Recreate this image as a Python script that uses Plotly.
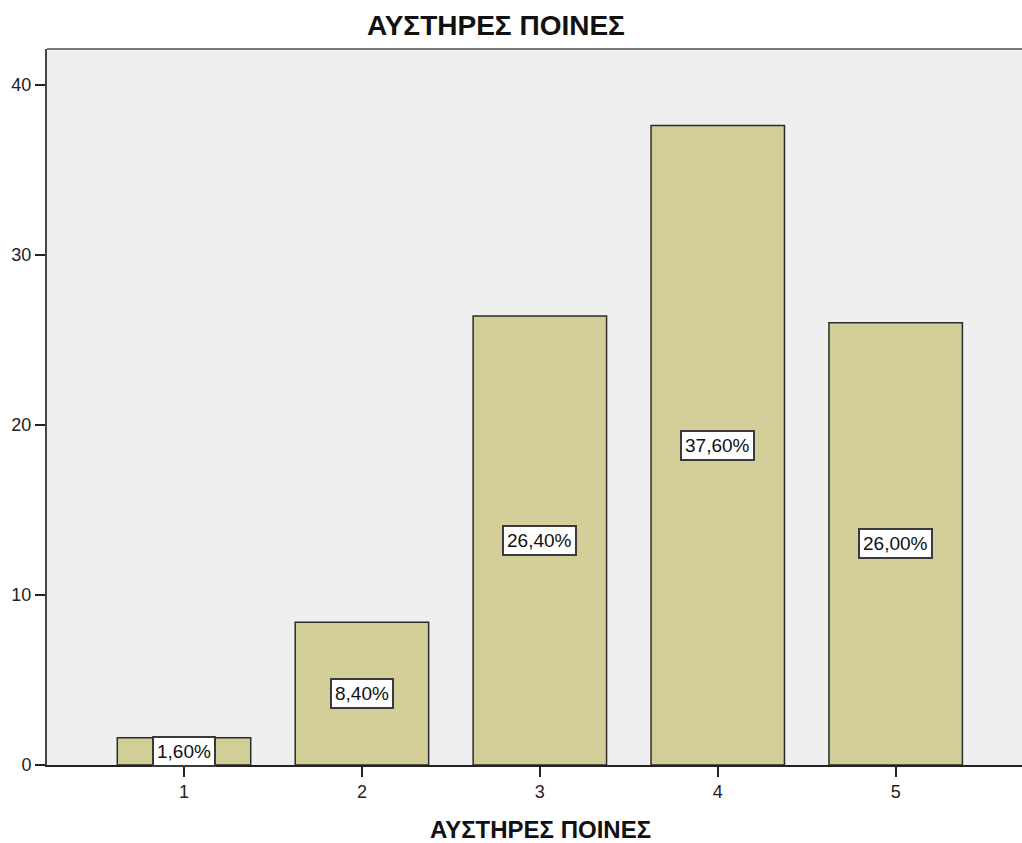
import plotly.graph_objects as go

# Response categories and their percentage shares
categories = [1, 2, 3, 4, 5]
percentages = [1.6, 8.4, 26.4, 37.6, 26.0]
tick_values = [0, 10, 20, 30, 40]
title_text = "ΑΥΣΤΗΡΕΣ ΠΟΙΝΕΣ"

FONT = "Liberation Sans, Arial"
PLOT_L, PLOT_R = 47, 1022
PLOT_B = 765


def pct_label(v):
    return f"{v:.2f}%".replace(".", ",")


def paper_x(px):
    return (px - PLOT_L) / (PLOT_R - PLOT_L)


fig = go.Figure()
fig.add_trace(go.Bar(
    x=categories,
    y=percentages,
    width=0.75,
    marker=dict(color="#D3CE98", line=dict(color="#2b2b2b", width=1.5)),
    hoverinfo="skip",
))

# Boxed value labels centred within each bar
for c, v in zip(categories, percentages):
    fig.add_annotation(
        x=c, y=v / 2, xref="x", yref="y",
        text=pct_label(v), showarrow=False,
        font=dict(family=FONT, size=19, color="#111111"),
        bgcolor="white", bordercolor="#3a3a3a", borderwidth=2, borderpad=3,
    )

# Chart title
fig.add_annotation(
    x=paper_x(496), y=1, xref="paper", yref="paper", yanchor="bottom", yshift=6,
    text=f"<b>{title_text}</b>", showarrow=False,
    font=dict(family=FONT, size=28, color="#111111"),
)

# X-axis title
fig.add_annotation(
    x=paper_x(540), y=0, xref="paper", yref="paper", yanchor="middle",
    yshift=-(829 - PLOT_B), borderpad=0,
    text=f"<b>{title_text}</b>", showarrow=False,
    font=dict(family=FONT, size=24, color="#111111"),
)

# Grey top frame line
fig.add_shape(type="line", xref="paper", yref="paper", x0=0, x1=1, y0=1, y1=1,
              line=dict(color="#7a7a7a", width=2))

fig.update_layout(
    width=1022, height=843,
    margin=dict(l=PLOT_L, r=0, t=49, b=843 - PLOT_B),
    paper_bgcolor="white",
    plot_bgcolor="#EFEFEF",
    showlegend=False,
    font=dict(family=FONT, size=18, color="#222222"),
)
fig.update_xaxes(
    range=[0.23, 5.71], tickvals=categories, ticktext=[str(c) for c in categories],
    showgrid=False, zeroline=False, showline=True, linecolor="#222222", linewidth=1.5,
    ticks="outside", ticklen=10, tickwidth=2, tickcolor="#222222",
    tickfont=dict(size=18),
)
fig.update_yaxes(
    range=[0, 42.1], tickvals=tick_values,
    showgrid=False, zeroline=False, showline=True, linecolor="#444444", linewidth=2,
    ticks="outside", ticklen=10, tickwidth=2, tickcolor="#222222",
    tickfont=dict(size=18),
)

fig.write_html("out.html")
